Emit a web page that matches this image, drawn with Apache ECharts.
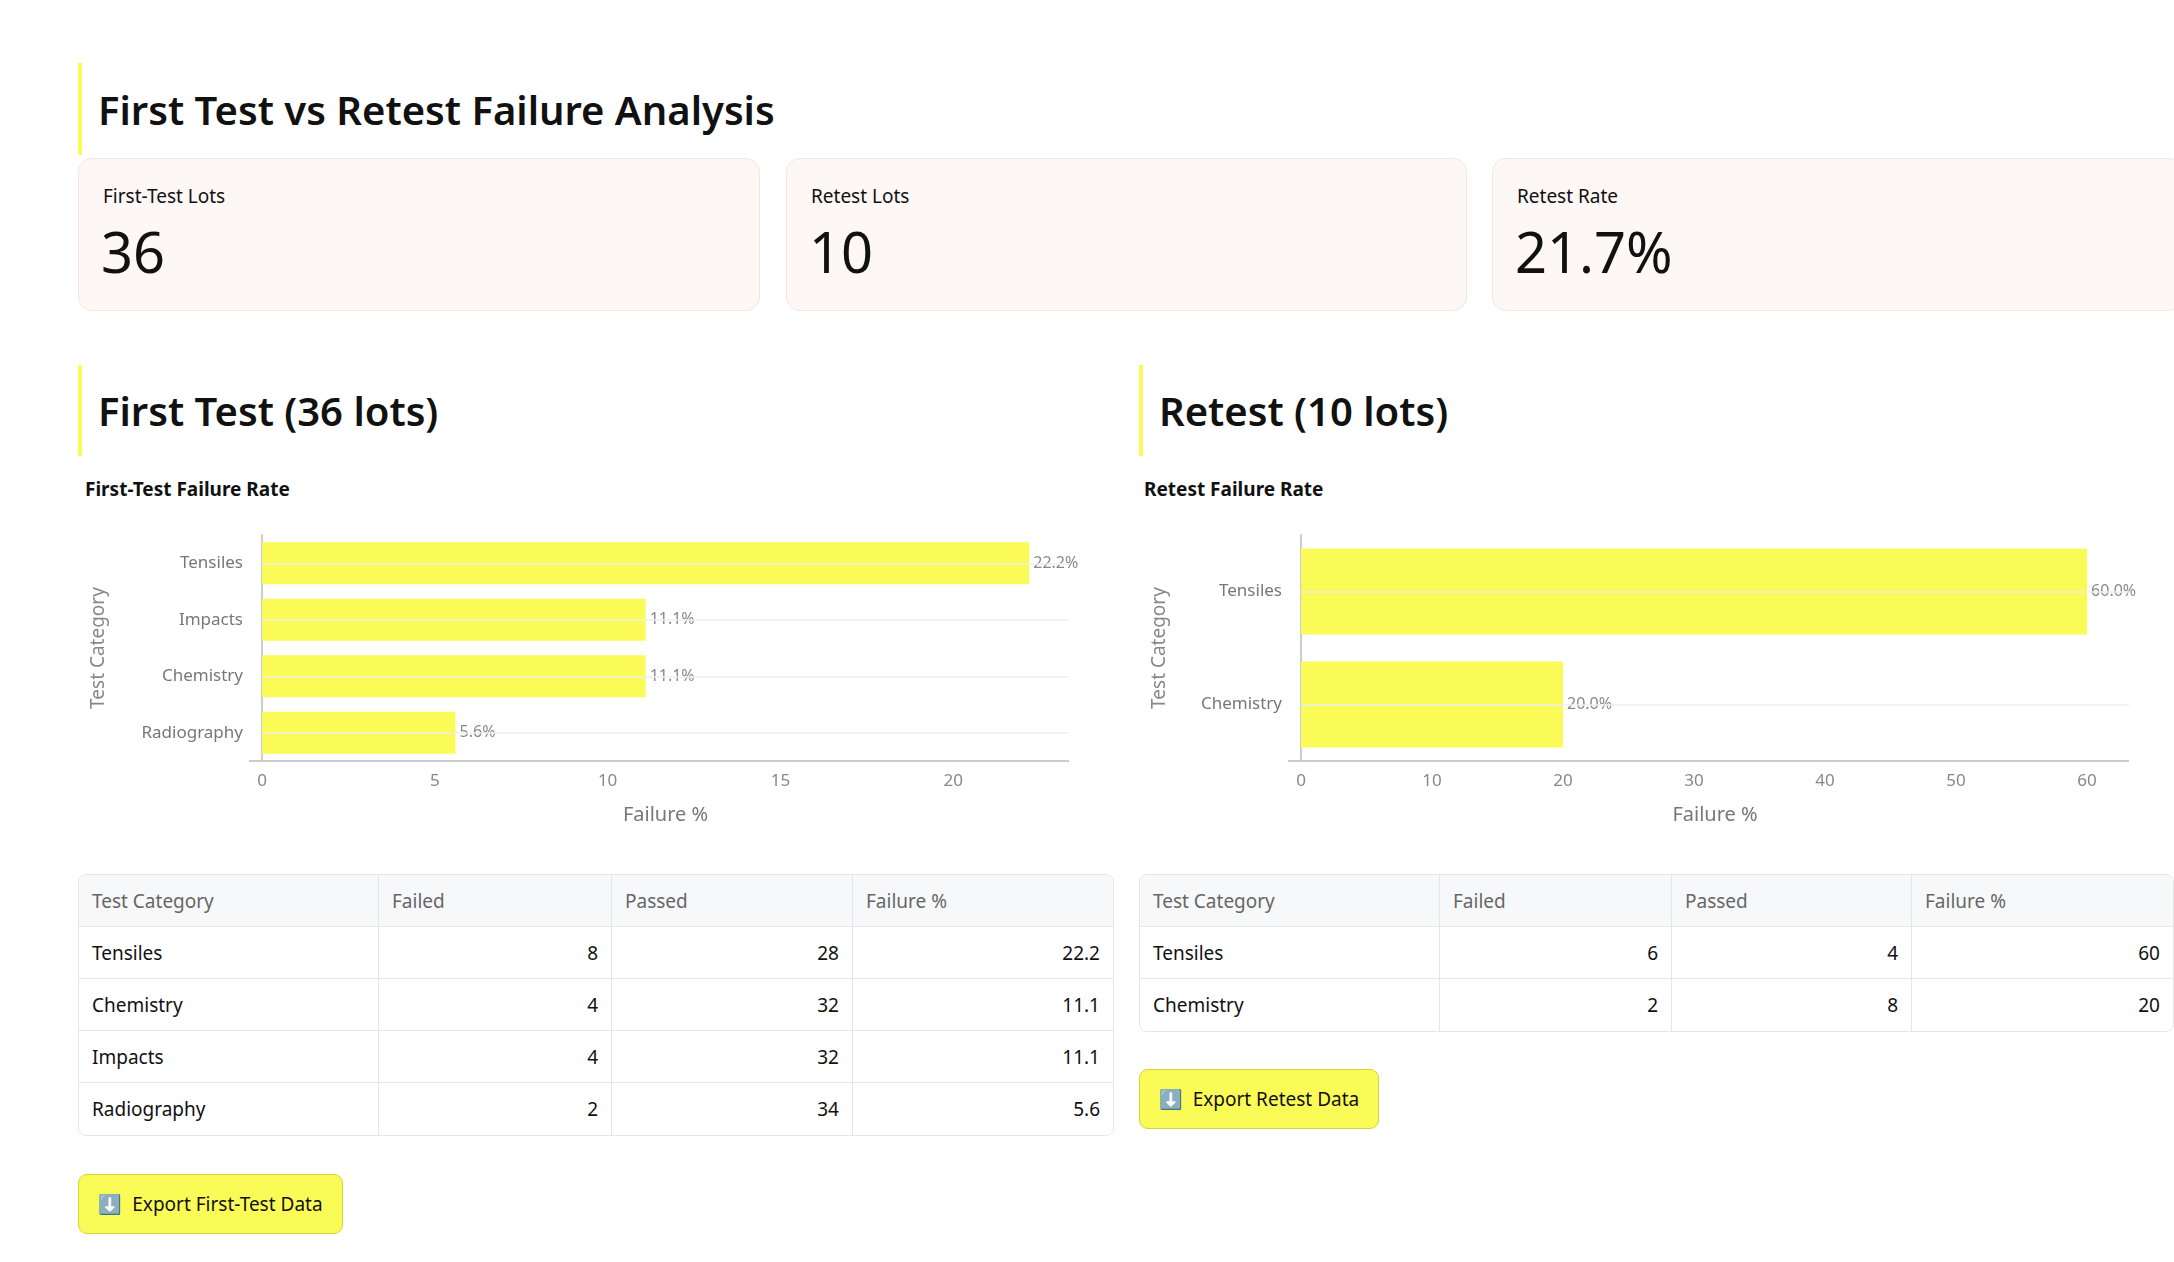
<!DOCTYPE html>
<html>
<head>
<meta charset="utf-8">
<script src="https://cdn.jsdelivr.net/npm/echarts@6/dist/echarts.min.js"></script>
<style>
  body { margin: 0; background: #fff; font-family: "Noto Sans", sans-serif; color: #111; }
  .abs { position: absolute; }
  .hdr { border-left: 4px solid #fbfb57; padding-left: 16px; font-weight: 600; display: flex; align-items: center; }
  .card { background: #fdf7f5; border: 1px solid #f6e6e2; border-radius: 14px; box-sizing: border-box; }
  .card .lab { position: absolute; left: 24px; top: 24px; font-size: 19px; }
  .card .val { position: absolute; left: 22px; top: 54px; font-size: 56px; }
  .ctitle { font-size: 19px; font-weight: 700; }
  table { border-collapse: separate; border-spacing: 0; border: 1px solid #e6e6e6; border-radius: 8px; font-size: 19px; position: absolute; overflow: hidden; }
  th, td { height: 52px; padding: 0 13px; border-right: 1px solid #e6e6e6; border-bottom: 1px solid #e6e6e6; box-sizing: border-box; }
  th { background: #f7f8fa; font-weight: 400; color: #666; text-align: left; }
  td.n { text-align: right; }
  tr:last-child td { border-bottom: none; }
  th:last-child, td:last-child { border-right: none; }
  .btn { background: #fbfb57; border: 1px solid #d6d43c; border-radius: 9px; font-size: 19px; display: flex; align-items: center; justify-content: center; box-sizing: border-box; }
</style>
</head>
<body>
<div class="abs hdr" style="left:78px;top:63px;height:92px;font-size:40px;">First Test vs Retest Failure Analysis</div>

<div class="abs card" style="left:78px;top:158px;width:682px;height:153px;"><div class="lab">First-Test Lots</div><div class="val" id="k1"></div></div>
<div class="abs card" style="left:786px;top:158px;width:681px;height:153px;"><div class="lab">Retest Lots</div><div class="val" id="k2"></div></div>
<div class="abs card" style="left:1492px;top:158px;width:690px;height:153px;"><div class="lab">Retest Rate</div><div class="val" id="k3"></div></div>

<div class="abs hdr" style="left:78px;top:365px;height:91px;font-size:40px;">First Test (36 lots)</div>
<div class="abs hdr" style="left:1139px;top:365px;height:91px;font-size:40px;">Retest (10 lots)</div>

<div class="abs ctitle" style="left:85px;top:476px;">First-Test Failure Rate</div>
<div class="abs ctitle" style="left:1144px;top:476px;">Retest Failure Rate</div>

<div class="abs" id="c1" style="left:78px;top:510px;width:1036px;height:330px;"></div>
<div class="abs" id="c2" style="left:1139px;top:510px;width:1035px;height:330px;"></div>

<table id="t1" style="left:78px;top:874px;width:1036px;"></table>
<table id="t2" style="left:1139px;top:874px;width:1035px;"></table>

<div class="abs btn" style="left:78px;top:1174px;width:265px;height:60px;">⬇️&nbsp; Export First-Test Data</div>
<div class="abs btn" style="left:1139px;top:1069px;width:240px;height:60px;">⬇️&nbsp; Export Retest Data</div>

<script>
var firstCats = ['Tensiles', 'Chemistry', 'Impacts', 'Radiography'];
var firstFailed = [8, 4, 4, 2];
var firstPassed = [28, 32, 32, 34];
var firstPct = [22.2, 11.1, 11.1, 5.6];

var retestCats = ['Tensiles', 'Chemistry'];
var retestFailed = [6, 2];
var retestPassed = [4, 8];
var retestPct = [60, 20];

var firstLots = 36, retestLots = 10, retestRate = '21.7%';

document.getElementById('k1').textContent = firstLots;
document.getElementById('k2').textContent = retestLots;
document.getElementById('k3').textContent = retestRate;

function fillTable(id, cats, failed, passed, pct, colW) {
  var h = '<tr><th style="width:' + colW[0] + 'px">Test Category</th><th style="width:' + colW[1] + 'px">Failed</th><th style="width:' + colW[2] + 'px">Passed</th><th>Failure %</th></tr>';
  for (var i = 0; i < cats.length; i++) {
    h += '<tr><td>' + cats[i] + '</td><td class="n">' + failed[i] + '</td><td class="n">' + passed[i] + '</td><td class="n">' + pct[i] + '</td></tr>';
  }
  document.getElementById(id).innerHTML = h;
}
fillTable('t1', firstCats, firstFailed, firstPassed, firstPct, [300, 233, 241]);
fillTable('t2', retestCats, retestFailed, retestPassed, retestPct, [300, 232, 240]);

function makeChart(id, cats, pct, max, interval, gridLeft, gridRight, gap) {
  var chart = echarts.init(document.getElementById(id));
  // plotly-ish order: first category at top
  var order = [];
  for (var i = 0; i < cats.length; i++) order.push(i);
  order.sort(function (a, b) { return pct[a] - pct[b]; });
  chart.setOption({
    animation: false,
    textStyle: { fontFamily: 'Noto Sans' },
    grid: { left: gridLeft, right: gridRight, top: 25, bottom: 79 },
    xAxis: {
      type: 'value', min: 0, max: max, interval: interval,
      name: 'Failure %', nameLocation: 'middle', nameGap: 44,
      nameTextStyle: { color: '#777', fontSize: 20 },
      axisLabel: { color: '#888', fontSize: 17, margin: 12, showMaxLabel: false },
      axisLine: { show: false }, axisTick: { show: false },
      splitLine: { show: false }
    },
    yAxis: [{
      type: 'category', data: order.map(function (i) { return cats[i]; }),
      offset: 13,
      name: 'Test Category', nameLocation: 'middle', nameGap: gridLeft - 43,
      nameTextStyle: { color: '#888', fontSize: 19 },
      axisLabel: { color: '#777', fontSize: 17, margin: 6 },
      axisLine: { show: true, lineStyle: { color: '#ccc', width: 2 } },
      axisTick: { show: false },
      splitLine: { show: false }
    }],
    series: [{
      type: 'bar',
      data: order.map(function (i) { return pct[i]; }),
      barCategoryGap: gap,
      itemStyle: { color: '#fbfb57' },
      label: { show: true, position: 'right', color: '#888', fontSize: 16, distance: 4,
        formatter: function (p) { return p.value.toFixed(1) + '%'; } },
      markLine: {
        silent: true, symbol: 'none', label: { show: false },
        lineStyle: { color: '#eee', type: 'solid', width: 1.5 },
        data: order.map(function (i) { return { yAxis: cats[i] }; })
      },
      z: 3
    }],
    graphic: [{
      type: 'line', z: 0, silent: true,
      shape: { x1: gridLeft - 13, y1: 330 - 79, x2: document.getElementById(id).clientWidth - gridRight, y2: 330 - 79 },
      style: { stroke: '#ccc', lineWidth: 2 }
    }]
  });
}
makeChart('c1', firstCats, firstPct, 23.35, 5, 184, 45, '26%');
makeChart('c2', retestCats, retestPct, 63.2, 10, 162, 45, '24%');
</script>
</body>
</html>
